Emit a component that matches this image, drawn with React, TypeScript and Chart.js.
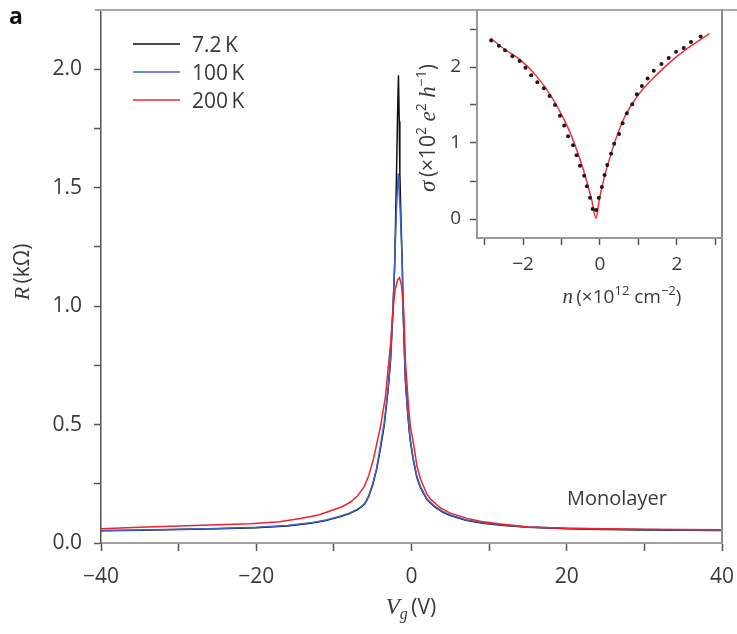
import React, { useEffect, useRef } from 'react';
import { Chart, registerables } from 'chart.js';
Chart.register(...registerables);

// ---------- main panel data: R (kΩ) vs Vg (V) ----------
const vg7K = [-40, -35, -30, -25, -20, -16, -13, -11, -10, -9, -8, -7, -6.5, -6, -5.5, -5, -4.5, -4, -3.5, -3, -2.7, -2.4, -2.15, -1.93, -1.8, -1.68, -1.58, -1.5, -1.35, -1.2, -1.07, -0.8, -0.5, -0.2, 0.2, 0.7, 1.2, 2, 3, 4, 5, 7, 9, 11.5, 15, 20, 25, 30, 35, 40];
const r7K = [0.052, 0.054, 0.057, 0.060, 0.064, 0.072, 0.083, 0.095, 0.104, 0.113, 0.124, 0.140, 0.151, 0.166, 0.198, 0.245, 0.31, 0.40, 0.50, 0.65, 0.77, 0.97, 1.19, 1.56, 1.80, 1.975, 1.78, 1.56, 1.36, 1.19, 0.97, 0.69, 0.55, 0.44, 0.355, 0.275, 0.23, 0.182, 0.152, 0.131, 0.116, 0.096, 0.084, 0.075, 0.066, 0.060, 0.057, 0.055, 0.054, 0.053];

const vg100K = [-40, -35, -30, -25, -20, -16, -13, -11, -10, -9, -8, -7, -6.5, -6, -5.5, -5, -4.5, -4, -3.5, -3, -2.7, -2.4, -2.15, -1.95, -1.71, -1.45, -1.2, -1.07, -0.8, -0.5, -0.2, 0.2, 0.7, 1.2, 2, 3, 4, 5, 7, 9, 11.5, 15, 20, 25, 30, 35, 40];
const r100K = [0.053, 0.055, 0.058, 0.061, 0.066, 0.074, 0.085, 0.097, 0.106, 0.115, 0.126, 0.142, 0.153, 0.168, 0.20, 0.25, 0.315, 0.41, 0.51, 0.66, 0.78, 0.98, 1.19, 1.40, 1.56, 1.40, 1.19, 0.98, 0.70, 0.56, 0.45, 0.36, 0.28, 0.235, 0.185, 0.155, 0.133, 0.118, 0.098, 0.086, 0.077, 0.068, 0.062, 0.059, 0.057, 0.055, 0.054];

const vg200K = [-40, -35, -30, -27, -24, -20.7, -17, -14.3, -12, -10.4, -9, -7.9, -7, -6.1, -5.5, -4.9, -4.5, -4, -3.35, -2.7, -2.4, -2.1, -1.8, -1.55, -1.3, -1.0, -0.77, -0.35, -0.13, 0.3, 0.73, 1.16, 2, 2.45, 3.74, 5, 7.2, 9, 11.5, 15, 20, 25, 30, 35, 40];
const r200K = [0.060, 0.066, 0.072, 0.075, 0.078, 0.081, 0.090, 0.103, 0.118, 0.136, 0.152, 0.172, 0.197, 0.238, 0.285, 0.355, 0.415, 0.49, 0.62, 0.84, 0.98, 1.07, 1.11, 1.12, 1.09, 0.98, 0.76, 0.56, 0.49, 0.41, 0.32, 0.27, 0.205, 0.185, 0.148, 0.126, 0.104, 0.091, 0.080, 0.068, 0.062, 0.060, 0.058, 0.057, 0.056];

const seriesLabels = ['7.2\u2009K', '100\u2009K', '200\u2009K'];
const seriesColors = ['#111111', '#3f63c4', '#f0222c'];

const xTickValues = [-40, -30, -20, -10, 0, 10, 20, 30, 40];
const yTickValues = [0, 0.25, 0.5, 0.75, 1.0, 1.25, 1.5, 1.75, 2.0];

// ---------- inset data: sigma vs n ----------
const insetN = [-2.83, -2.63, -2.47, -2.28, -2.09, -1.94, -1.79, -1.63, -1.46, -1.31, -1.17, -1.04, -0.93, -0.83, -0.70, -0.61, -0.52, -0.41, -0.34, -0.26, -0.19, -0.10, -0.03, 0.05, 0.12, 0.19, 0.29, 0.37, 0.50, 0.59, 0.70, 0.84, 0.96, 1.09, 1.24, 1.40, 1.60, 1.79, 1.98, 2.18, 2.37, 2.62];
const insetSigma = [2.35, 2.28, 2.22, 2.14, 2.08, 1.99, 1.89, 1.80, 1.72, 1.62, 1.50, 1.36, 1.23, 1.09, 0.97, 0.84, 0.70, 0.57, 0.43, 0.28, 0.13, 0.12, 0.28, 0.42, 0.58, 0.71, 0.86, 0.99, 1.12, 1.26, 1.39, 1.51, 1.64, 1.75, 1.85, 1.95, 2.04, 2.12, 2.20, 2.25, 2.33, 2.40];
const fitN = [-2.85, -2.5, -2.09, -1.65, -1.22, -0.78, -0.44, -0.22, -0.1, -0.02, 0.1, 0.3, 0.61, 1.04, 1.48, 1.91, 2.35, 2.85];
const fitSigma = [2.38, 2.24, 2.10, 1.88, 1.575, 1.14, 0.66, 0.26, 0.01, 0.25, 0.52, 0.88, 1.31, 1.66, 1.90, 2.10, 2.27, 2.44];
const insetXTicks = [-3, -2, -1, 0, 1, 2, 3];
const insetYTicks = [0, 0.5, 1, 1.5, 2, 2.5];

const SANS = '"Open Sans", "DejaVu Sans", sans-serif';
const SERIF = '"Liberation Serif", "DejaVu Serif", serif';
const TEXT = '#3a3a3a';

const toXY = (xs: number[], ys: number[]) => xs.map((x, i) => ({ x, y: ys[i] }));
const fmtNum = (v: number) => (v < 0 ? '\u2212' + Math.abs(v) : String(v));

type Part = { t: string; f: string; dy?: number };
function drawRich(ctx: CanvasRenderingContext2D, parts: Part[], cx: number, baseY: number, rot = 0) {
  ctx.save();
  ctx.translate(cx, baseY);
  if (rot) ctx.rotate(rot);
  ctx.textBaseline = 'alphabetic';
  ctx.textAlign = 'left';
  ctx.fillStyle = TEXT;
  let total = 0;
  const widths = parts.map((p) => {
    ctx.font = p.f;
    const w = ctx.measureText(p.t).width;
    total += w;
    return w;
  });
  let x = -total / 2;
  parts.forEach((p, i) => {
    ctx.font = p.f;
    ctx.fillText(p.t, x, p.dy || 0);
    x += widths[i];
  });
  ctx.restore();
}

const mainDecor = {
  id: 'mainDecor',
  afterDraw(chart: any) {
    const ctx: CanvasRenderingContext2D = chart.ctx;
    const a = chart.chartArea;
    ctx.save();
    // frame top and right
    ctx.strokeStyle = '#a8a8a8';
    ctx.lineWidth = 2;
    ctx.beginPath();
    ctx.moveTo(95, a.top);
    ctx.lineTo(737, a.top);
    ctx.stroke();
    ctx.strokeStyle = '#8c8c8c';
    ctx.beginPath();
    ctx.moveTo(a.right, a.top);
    ctx.lineTo(a.right, a.bottom);
    ctx.stroke();
    // legend
    const ly = [44, 72, 100];
    seriesLabels.forEach((lab, i) => {
      ctx.strokeStyle = seriesColors[i];
      ctx.lineWidth = 1.5;
      ctx.beginPath();
      ctx.moveTo(133, ly[i]);
      ctx.lineTo(180, ly[i]);
      ctx.stroke();
      ctx.fillStyle = TEXT;
      ctx.font = `21px ${SANS}`;
      ctx.textBaseline = 'alphabetic';
      ctx.textAlign = 'left';
      ctx.fillText(lab, 192, ly[i] + 7.5);
    });
    // panel letter
    ctx.fillStyle = '#111';
    ctx.font = `bold 23px ${SANS}`;
    ctx.fillText('a', 9, 24);
    // annotation
    ctx.fillStyle = TEXT;
    ctx.font = `20px ${SANS}`;
    ctx.fillText('Monolayer', 567, 505);
    ctx.restore();
    // axis titles
    drawRich(ctx, [
      { t: 'V', f: `italic 23px ${SERIF}` },
      { t: 'g', f: `italic 16px ${SERIF}`, dy: 5 },
      { t: '\u2009(V)', f: `21px ${SANS}` },
    ], 411, 614);
    drawRich(ctx, [
      { t: 'R', f: `italic 22px ${SERIF}` },
      { t: '\u2009(k\u03a9)', f: `21px ${SANS}` },
    ], 29, 272, -Math.PI / 2);
  },
};

const insetDecor = {
  id: 'insetDecor',
  afterDraw(chart: any) {
    const ctx: CanvasRenderingContext2D = chart.ctx;
    drawRich(ctx, [
      { t: 'n', f: `italic 21px ${SERIF}` },
      { t: '\u2009(\u00d710', f: `19px ${SANS}` },
      { t: '12', f: `13px ${SANS}`, dy: -8 },
      { t: ' cm', f: `19px ${SANS}` },
      { t: '\u22122', f: `13px ${SANS}`, dy: -8 },
      { t: ')', f: `19px ${SANS}` },
    ], 222, 303);
    drawRich(ctx, [
      { t: '\u03c3', f: `italic 23px ${SERIF}` },
      { t: '\u2009(\u00d710', f: `21px ${SANS}` },
      { t: '2', f: `14px ${SANS}`, dy: -9 },
      { t: ' ', f: `21px ${SANS}` },
      { t: 'e', f: `italic 23px ${SERIF}` },
      { t: '2', f: `14px ${SANS}`, dy: -9 },
      { t: ' ', f: `21px ${SANS}` },
      { t: 'h', f: `italic 23px ${SERIF}` },
      { t: '\u22121', f: `14px ${SANS}`, dy: -9 },
      { t: ')', f: `21px ${SANS}` },
    ], 35, 128, -Math.PI / 2);
  },
};

export default function App() {
  const mainRef = useRef<HTMLCanvasElement>(null);
  const insetRef = useRef<HTMLCanvasElement>(null);

  useEffect(() => {
    const lineDs = (label: string, xs: number[], ys: number[], color: string) => ({
      label,
      data: toXY(xs, ys),
      borderColor: color,
      backgroundColor: color,
      borderWidth: 1.5,
      pointRadius: 0,
      tension: 0,
      fill: false,
    });

    const main = new Chart(mainRef.current as HTMLCanvasElement, {
      type: 'line',
      data: {
        datasets: [
          lineDs(seriesLabels[2], vg200K, r200K, seriesColors[2]),
          lineDs(seriesLabels[1], vg100K, r100K, seriesColors[1]),
          lineDs(seriesLabels[0], vg7K, r7K, seriesColors[0]),
        ],
      },
      options: {
        responsive: false,
        animation: false,
        devicePixelRatio: 1,
        layout: { padding: { left: 0, top: 10, right: 15, bottom: 0 } },
        plugins: { legend: { display: false }, tooltip: { enabled: false } },
        scales: {
          x: {
            type: 'linear',
            min: -40,
            max: 40,
            afterBuildTicks: (s: any) => { s.ticks = xTickValues.map((v) => ({ value: v })); },
            afterFit: (s: any) => { s.height = 91; s.paddingLeft = 0; s.paddingRight = 0; },
            ticks: {
              autoSkip: false,
              maxRotation: 0,
              padding: 13,
              color: TEXT,
              font: { family: SANS, size: 21 },
              callback: (v: any) => (Number(v) % 20 === 0 ? fmtNum(Number(v)) : ''),
            },
            grid: { drawOnChartArea: false, drawTicks: true, tickLength: 8, tickColor: '#555', tickWidth: 1.5 },
            border: { display: true, color: '#a0a0a0', width: 2 },
          },
          y: {
            type: 'linear',
            min: 0,
            max: 2.25,
            afterBuildTicks: (s: any) => { s.ticks = yTickValues.map((v) => ({ value: v })); },
            afterFit: (s: any) => { s.width = 101; s.paddingTop = 0; s.paddingBottom = 0; },
            ticks: {
              autoSkip: false,
              padding: 12,
              color: TEXT,
              font: { family: SANS, size: 21 },
              callback: (v: any) => (Math.abs((Number(v) * 2) % 1) < 1e-9 ? Number(v).toFixed(1) : ''),
            },
            grid: { drawOnChartArea: false, drawTicks: true, tickLength: 7, tickColor: '#555', tickWidth: 1.5 },
            border: { display: true, color: '#555', width: 1.5 },
          },
        },
      } as any,
      plugins: [mainDecor],
    });

    const inset = new Chart(insetRef.current as HTMLCanvasElement, {
      type: 'line',
      data: {
        datasets: [
          {
            label: 'data',
            data: toXY(insetN, insetSigma),
            showLine: false,
            pointRadius: 2,
            pointBackgroundColor: '#1a1a1a',
            pointBorderWidth: 0,
            borderColor: '#1a1a1a',
          },
          {
            label: 'fit',
            data: toXY(fitN, fitSigma),
            borderColor: '#f0303a',
            borderWidth: 1.5,
            pointRadius: 0,
            cubicInterpolationMode: 'monotone',
            fill: false,
          },
        ],
      },
      options: {
        responsive: false,
        animation: false,
        devicePixelRatio: 1,
        layout: { padding: { left: 0, top: 10, right: 16, bottom: 0 } },
        plugins: { legend: { display: false }, tooltip: { enabled: false } },
        scales: {
          x: {
            type: 'linear',
            min: -3.2,
            max: 3.15,
            afterBuildTicks: (s: any) => { s.ticks = insetXTicks.map((v) => ({ value: v })); },
            afterFit: (s: any) => { s.height = 82; s.paddingLeft = 0; s.paddingRight = 0; },
            ticks: {
              autoSkip: false,
              maxRotation: 0,
              padding: 8,
              color: TEXT,
              font: { family: SANS, size: 19 },
              callback: (v: any) => (Number(v) % 2 === 0 ? fmtNum(Number(v)) : ''),
            },
            grid: { drawOnChartArea: false, drawTicks: true, tickLength: 7, tickColor: '#555', tickWidth: 1.5 },
            border: { display: true, color: '#999', width: 2 },
          },
          y: {
            type: 'linear',
            min: -0.25,
            max: 2.75,
            afterBuildTicks: (s: any) => { s.ticks = insetYTicks.map((v) => ({ value: v })); },
            afterFit: (s: any) => { s.width = 77; s.paddingTop = 0; s.paddingBottom = 0; },
            ticks: {
              autoSkip: false,
              padding: 9,
              color: TEXT,
              font: { family: SANS, size: 19 },
              callback: (v: any) => (Number.isInteger(Number(v)) ? fmtNum(Number(v)) : ''),
            },
            grid: { drawOnChartArea: false, drawTicks: true, tickLength: 7, tickColor: '#555', tickWidth: 1.5 },
            border: { display: true, color: '#999', width: 2 },
          },
        },
      } as any,
      plugins: [insetDecor],
    });

    return () => {
      main.destroy();
      inset.destroy();
    };
  }, []);

  return (
    <div style={{ position: 'absolute', left: 0, top: 0, width: 737, height: 634, background: '#fff' }}>
      <canvas ref={mainRef} width={737} height={634} style={{ position: 'absolute', left: 0, top: 0 }} />
      <canvas ref={insetRef} width={337} height={320} style={{ position: 'absolute', left: 400, top: 0 }} />
    </div>
  );
}
